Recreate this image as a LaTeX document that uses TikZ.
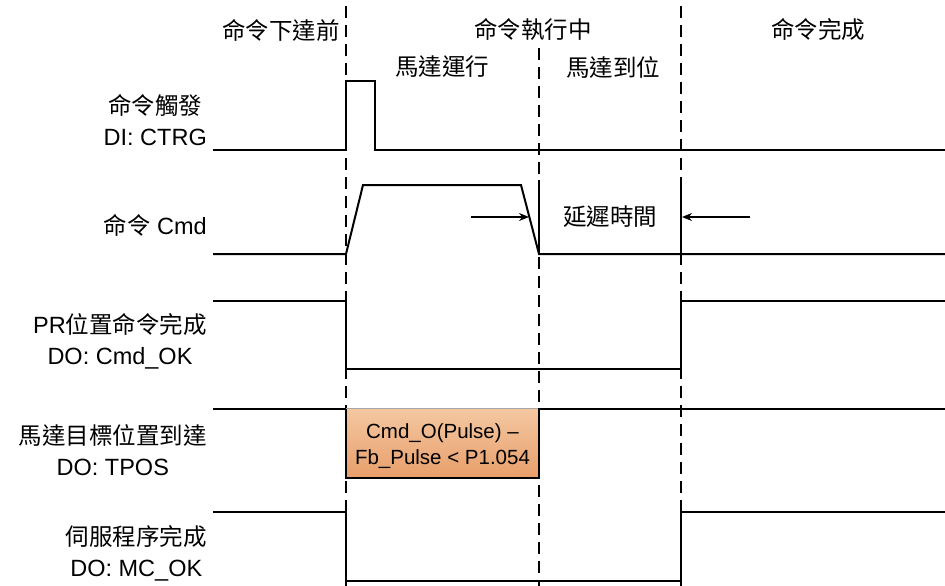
\documentclass[tikz,border=0pt]{standalone}
\usepackage{fontspec}
\setmainfont{Liberation Sans}
\newfontfamily\cjk{Noto Sans CJK TC}
\newcommand\zh[1]{{\cjk #1}}
\usetikzlibrary{arrows.meta}
\begin{document}
\begin{tikzpicture}[x=1pt,y=-1pt,
  sig/.style={line width=2pt,line join=miter},
  guide/.style={line width=1.4pt,dash pattern=on 12pt off 7pt},
  marker/.style={line width=1.4pt},
  lbl/.style={font=\fontsize{23.5}{31}\selectfont,align=center,inner sep=0pt},
  hdr/.style={font=\fontsize{23.5}{28}\selectfont,inner sep=0pt},
  arr/.style={line width=1.4pt,-{Stealth[length=10pt,width=8pt]}},
  boxtxt/.style={font=\fontsize{20.5}{26}\selectfont,align=center,inner sep=0pt}
]
\useasboundingbox (0,0) rectangle (945,586);
% guides
\coordinate (gA) at (346,6);
\coordinate (gAe) at (346,586);
\coordinate (gB) at (539,48);
\coordinate (gBe) at (539,586);
\coordinate (gC) at (681,6);
\coordinate (gCe) at (681,586);
\draw[guide] (gA) -- (gAe);
\draw[guide] (gB) -- (gBe);
\draw[guide] (gC) -- (gCe);
% headers
\node[hdr] (h1) at (281,30) {\zh{命令下達前}};
\node[hdr] (h2) at (533,30) {\zh{命令執行中}};
\node[hdr] (h3) at (818,30) {\zh{命令完成}};
\node[hdr] (h4) at (442,67) {\zh{馬達運行}};
\node[hdr] (h5) at (613,67) {\zh{馬達到位}};
% left labels
\node[lbl,anchor=east] (l1) at (207,120) {\zh{命令觸發}\\DI: CTRG};
\node[lbl,anchor=east] (l2) at (207,225) {\zh{命令} Cmd};
\node[lbl,anchor=east] (l3) at (207,341) {PR\zh{位置命令完成}\\DO: Cmd\_OK};
\node[lbl,anchor=east] (l4) at (207,450) {\zh{馬達目標位置到達}\\DO: TPOS};
\node[lbl,anchor=east] (l5) at (207,553) {\zh{伺服程序完成}\\DO: MC\_OK};
% TPOS box
\shade[top color={rgb,255:red,244;green,200;blue,162},bottom color={rgb,255:red,232;green,158;blue,106}] (346,408) rectangle (539,478);
\draw[gray!70,line width=0.8pt] (346,408) -- (539,408);
\node[boxtxt] (bt) at (442.5,446) {Cmd\_O(Pulse) --\\Fb\_Pulse < P1.054};
% signals
\draw[sig] (213,150) -- (346,150) -- (346,81) -- (375,81) -- (375,150) -- (945,150);
\draw[sig] (213,254) -- (346,254) -- (363,185) -- (521,185) -- (539,254) -- (945,254);
\draw[sig] (213,301) -- (346,301) -- (346,369) -- (681,369) -- (681,301) -- (945,301);
\draw[sig] (213,409) -- (346,409);
\draw[sig] (346,409) -- (346,478) -- (539,478) -- (539,409) -- (945,409);
\draw[sig] (213,512) -- (346,512) -- (346,581) -- (681,581) -- (681,512) -- (945,512);
% delay markers
\coordinate (m1a) at (539,180);
\coordinate (m1b) at (539,254);
\coordinate (m2a) at (681,177);
\coordinate (m2b) at (681,254);
\draw[marker] (m1a) -- (m1b);
\draw[marker] (m2a) -- (m2b);
\coordinate (a1s) at (471,217);
\coordinate (a1e) at (529,217);
\coordinate (a2s) at (750,217);
\coordinate (a2e) at (682,217);
\draw[arr] (a1s) -- (a1e);
\draw[arr] (a2s) -- (a2e);
\node[hdr] (dl) at (610,217) {\zh{延遲時間}};
\end{tikzpicture}
\end{document}
